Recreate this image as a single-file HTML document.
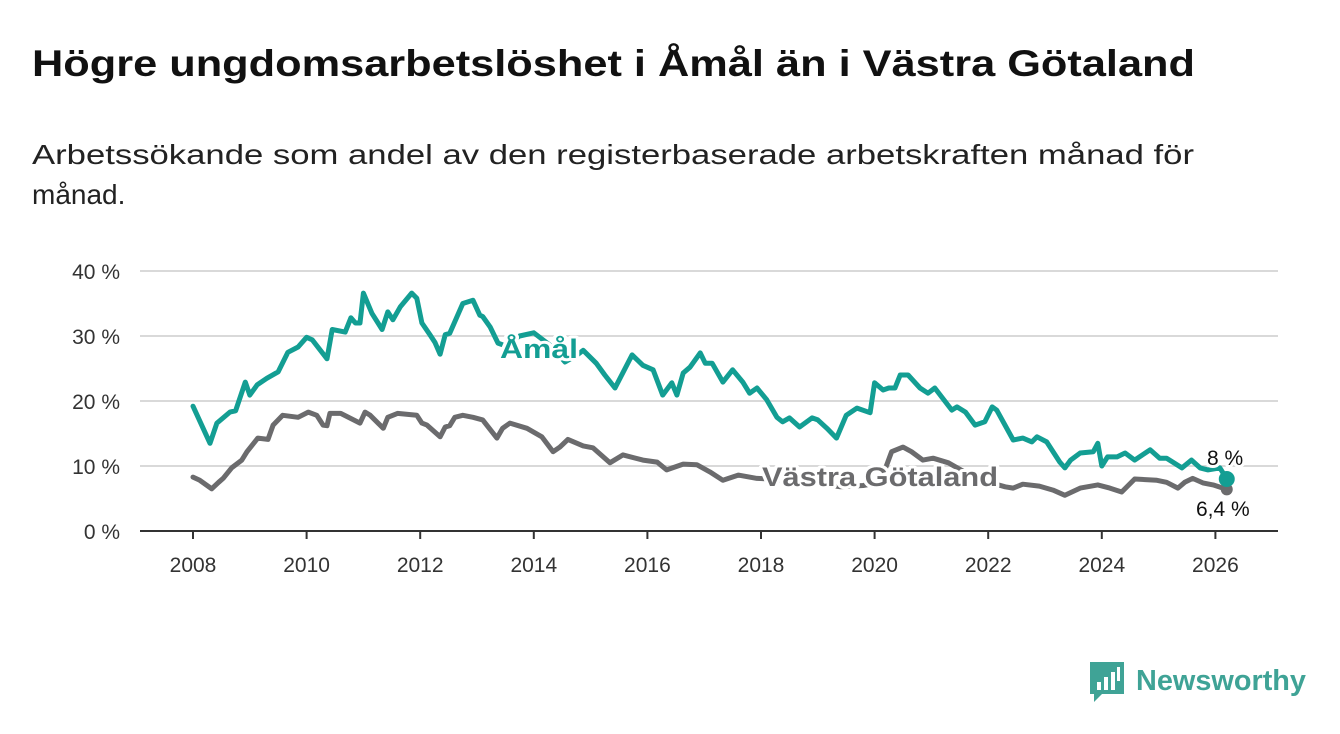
<!DOCTYPE html>
<html><head><meta charset="utf-8"><style>
html,body{margin:0;padding:0;background:#fff;}
svg{display:block;font-family:"Liberation Sans",sans-serif;}
</style></head><body>
<svg id="chart" width="1340" height="734" viewBox="0 0 1340 734" xmlns="http://www.w3.org/2000/svg">
<text x="32" y="76" font-size="37" font-weight="bold" fill="#111" textLength="1163" lengthAdjust="spacingAndGlyphs">Högre ungdomsarbetslöshet i Åmål än i Västra Götaland</text>
<text x="32" y="164" font-size="28" fill="#222" textLength="1162" lengthAdjust="spacingAndGlyphs">Arbetssökande som andel av den registerbaserade arbetskraften månad för</text>
<text x="32" y="204" font-size="28" fill="#222">månad.</text>
<g id="grid"></g>
<g id="yaxis"></g>
<g id="xaxis"></g>
<g id="series"></g>
<g id="labels"></g>
<g>
<path d="M1090 662 h34 v32 h-22 l-8 8 v-8 h-4 z" fill="#3fa396"/>
<rect x="1097" y="682" width="4" height="8" fill="#fff"/><rect x="1104" y="677" width="4" height="13" fill="#fff"/><rect x="1111" y="672" width="4" height="18" fill="#fff"/><rect x="1117" y="667" width="3" height="14" fill="#fff"/>
<text x="1136" y="690" font-size="29" font-weight="bold" fill="#3fa396" textLength="170" lengthAdjust="spacingAndGlyphs">Newsworthy</text>
</g>
</svg>
<script>
const yTicks=[0,10,20,30,40];
const yTickLabels=["0 %","10 %","20 %","30 %","40 %"];
const xTicks=[2008,2010,2012,2014,2016,2018,2020,2022,2024,2026];
const amalYears=[2008.0,2008.3,2008.42,2008.65,2008.75,2008.92,2009.0,2009.13,2009.3,2009.5,2009.67,2009.85,2010.0,2010.1,2010.36,2010.45,2010.68,2010.78,2010.86,2010.94,2011.0,2011.15,2011.33,2011.43,2011.52,2011.65,2011.85,2011.94,2012.03,2012.17,2012.26,2012.35,2012.44,2012.52,2012.65,2012.75,2012.93,2013.05,2013.1,2013.23,2013.37,2013.5,2013.75,2014.0,2014.3,2014.55,2014.75,2014.87,2015.1,2015.25,2015.43,2015.73,2015.92,2016.1,2016.27,2016.43,2016.52,2016.63,2016.75,2016.93,2017.02,2017.14,2017.33,2017.5,2017.68,2017.8,2017.93,2018.1,2018.28,2018.38,2018.5,2018.68,2018.9,2019.0,2019.16,2019.33,2019.5,2019.69,2019.92,2020.0,2020.15,2020.25,2020.36,2020.45,2020.59,2020.8,2020.94,2021.06,2021.36,2021.45,2021.6,2021.77,2021.94,2022.07,2022.15,2022.44,2022.61,2022.77,2022.86,2023.03,2023.26,2023.35,2023.45,2023.62,2023.85,2023.93,2024.0,2024.1,2024.27,2024.41,2024.58,2024.85,2025.02,2025.14,2025.25,2025.41,2025.58,2025.73,2025.87,2026.08,2026.2];
const amalValues=[19.2,13.5,16.6,18.3,18.5,22.9,20.9,22.5,23.5,24.5,27.5,28.3,29.8,29.4,26.5,31,30.6,32.8,32,32,36.6,33.5,31,33.7,32.5,34.5,36.6,35.8,32,30.2,29,27.2,30.2,30.4,33,35,35.5,33.2,33,31.4,28.9,28.5,30,30.5,28.5,26,27,27.8,25.8,24,22,27.1,25.5,24.8,20.9,22.8,20.9,24.3,25.2,27.4,25.8,25.8,22.9,24.8,22.9,21.2,22,20.2,17.5,16.8,17.4,16,17.4,17.1,15.8,14.3,17.8,18.9,18.2,22.8,21.7,22,22,24,24,22,21.2,22,18.6,19.1,18.3,16.3,16.8,19.1,18.6,14,14.3,13.7,14.5,13.7,10.6,9.7,10.9,12,12.2,13.5,10,11.4,11.4,12,10.9,12.5,11.2,11.2,10.6,9.7,10.9,9.7,9.4,9.7,8.0];
const vgYears=[2008.0,2008.12,2008.33,2008.45,2008.53,2008.68,2008.86,2008.95,2009.14,2009.32,2009.41,2009.58,2009.85,2010.03,2010.18,2010.29,2010.36,2010.41,2010.6,2010.94,2011.03,2011.12,2011.35,2011.43,2011.6,2011.94,2012.03,2012.12,2012.35,2012.44,2012.52,2012.61,2012.75,2012.93,2013.1,2013.35,2013.45,2013.58,2013.88,2014.14,2014.34,2014.46,2014.6,2014.87,2015.04,2015.34,2015.57,2015.92,2016.17,2016.34,2016.63,2016.87,2017.1,2017.33,2017.6,2017.93,2018.2,2018.6,2019.0,2019.4,2019.8,2020.1,2020.3,2020.5,2020.65,2020.85,2021.03,2021.3,2021.6,2021.9,2022.1,2022.3,2022.44,2022.61,2022.9,2023.14,2023.35,2023.62,2023.93,2024.14,2024.35,2024.58,2024.97,2025.14,2025.34,2025.46,2025.6,2025.78,2025.96,2026.2];
const vgValues=[8.3,7.8,6.5,7.5,8.1,9.7,10.9,12.2,14.3,14.1,16.3,17.8,17.5,18.3,17.8,16.3,16.2,18.1,18.1,16.6,18.3,17.8,15.8,17.5,18.1,17.8,16.6,16.3,14.5,16,16.2,17.5,17.8,17.5,17.1,14.3,15.8,16.6,15.8,14.5,12.2,12.9,14.1,13.1,12.8,10.5,11.7,10.9,10.6,9.4,10.3,10.2,9.1,7.8,8.6,8.1,8.0,7.6,7.3,6.8,7.0,7.5,12.2,12.9,12.2,10.9,11.2,10.5,9,8,7.3,6.8,6.6,7.2,6.9,6.3,5.5,6.6,7.1,6.6,6.0,8.0,7.8,7.5,6.6,7.5,8.1,7.4,7.1,6.4];
const NS="http://www.w3.org/2000/svg";
const X0=140,X1=1278,Y0=531;
function xs(yr){return 193+(yr-2008)*56.8;}
function ys(v){return Y0-v*6.5;}
function mk(tag,attrs,parent){const e=document.createElementNS(NS,tag);for(const k in attrs)e.setAttribute(k,attrs[k]);parent.appendChild(e);return e;}
const grid=document.getElementById('grid'),yax=document.getElementById('yaxis'),xax=document.getElementById('xaxis'),ser=document.getElementById('series'),lab=document.getElementById('labels');
yTicks.forEach((t,i)=>{
 if(t>0){const g=mk('line',{x1:X0,x2:X1,y1:ys(t),y2:ys(t),stroke:'#d9d9d9','stroke-width':2},grid);
 
 }
 const tx=mk('text',{x:120,y:ys(t)+8,'text-anchor':'end','font-size':21,fill:'#333'},yax);
 
 
 tx.textContent=yTickLabels[i];
});
const ax=mk('line',{x1:X0,x2:X1,y1:Y0,y2:Y0,stroke:'#333','stroke-width':2},xax);


xTicks.forEach(t=>{
 const tk=mk('line',{x1:xs(t),x2:xs(t),y1:Y0,y2:Y0+8,stroke:'#333','stroke-width':2},xax);
 
 
 const tx=mk('text',{x:xs(t),y:572,'text-anchor':'middle','font-size':21,fill:'#333'},xax);
 
 
 tx.textContent=t;
});
function line(yrs,vals,color,name){
 const d=yrs.map((y,i)=>(i?'L':'M')+xs(y).toFixed(1)+' '+ys(vals[i]).toFixed(1)).join(' ');
 const p=mk('path',{d:d,fill:'none',stroke:color,'stroke-width':5,'stroke-linejoin':'round','stroke-linecap':'round'},ser);
 
 
}
line(vgYears,vgValues,'#6b6b6d','vastra-gotaland-line');
line(amalYears,amalValues,'#139e93','amal-line');
const dotV=mk('circle',{cx:xs(vgYears[vgYears.length-1]),cy:ys(vgValues[vgValues.length-1]),r:6,fill:'#6b6b6d'},ser);


const dotA=mk('circle',{cx:xs(amalYears[amalYears.length-1]),cy:ys(amalValues[amalValues.length-1]),r:8,fill:'#139e93'},ser);


function label(txt,x,y,size,color,weight,name,len){
 const t=mk('text',{x:x,y:y,'font-size':size,fill:color,'font-weight':weight,stroke:'#fff','stroke-width':6,'paint-order':'stroke','stroke-linejoin':'round'},lab);
 if(len){t.setAttribute('textLength',len);t.setAttribute('lengthAdjust','spacingAndGlyphs');}
 
 
 t.textContent=txt;
}
label('Åmål',500,358,27,'#139e93','bold','amal-label',78);
label('Västra Götaland',762,486,27,'#6b6b6d','bold','vastra-gotaland-label',236);
label('8 %',1207,465,21,'#111','normal','amal-end-value');
label('6,4 %',1196,516,21,'#111','normal','vastra-gotaland-end-value');
</script>
</body></html>
